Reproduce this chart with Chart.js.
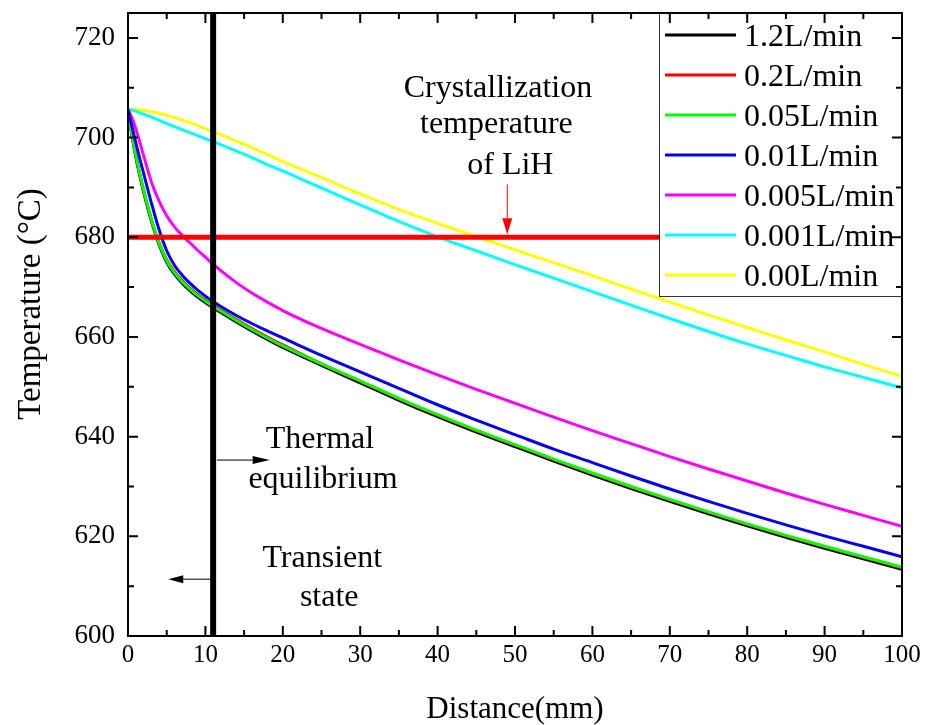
<!DOCTYPE html>
<html>
<head>
<meta charset="utf-8">
<script src="https://cdn.jsdelivr.net/npm/chart.js@4.4.1/dist/chart.umd.min.js"></script>
<style>
  html, body { margin: 0; padding: 0; background: #fff; }
</style>
</head>
<body>
<canvas id="chart" width="927" height="725"></canvas>
<script>
// distance along the tube (mm)
var distance = [0, 0.5, 1, 1.5, 2, 3, 4, 5, 6, 7, 8, 9, 10, 11, 12, 14, 16, 18, 20,
    25, 30, 35, 40, 45, 50, 55, 60, 65, 70, 75, 80, 85, 90, 95, 100];

// temperature (°C) for each flow rate
var flow1_2 = [705.6, 700.5, 696.2, 692.5, 689.2, 683.4, 678.6, 675.0, 672.6, 670.8, 669.3, 668.0, 666.9, 665.9, 664.9, 663.0, 661.2, 659.5, 657.9,
    654.3, 650.8, 647.3, 644.0, 640.9, 638.0, 635.1, 632.3, 629.6, 627.0, 624.5, 622.1, 619.8, 617.6, 615.5, 613.4];
var flow0_2 = [705.6, 700.7, 696.5, 692.8, 689.5, 683.7, 679.0, 675.5, 673.1, 671.3, 669.8, 668.5, 667.4, 666.4, 665.4, 663.5, 661.7, 660.0, 658.4,
    654.6, 651.1, 647.6, 644.3, 641.2, 638.3, 635.4, 632.6, 629.9, 627.3, 624.8, 622.4, 620.1, 617.9, 615.8, 613.7];
var flow0_05 = [705.6, 700.8, 696.6, 692.9, 689.6, 683.7, 678.9, 675.3, 672.9, 671.1, 669.6, 668.3, 667.2, 666.2, 665.2, 663.3, 661.5, 659.8, 658.2,
    654.6, 651.2, 647.7, 644.4, 641.3, 638.4, 635.5, 632.7, 630.0, 627.4, 624.9, 622.5, 620.2, 618.0, 615.9, 613.8];
var flow0_01 = [705.6, 702.3, 699.0, 695.9, 692.9, 687.0, 681.6, 677.3, 674.4, 672.4, 670.8, 669.4, 668.2, 667.1, 666.1, 664.3, 662.7, 661.2, 659.8,
    656.3, 653.0, 649.7, 646.4, 643.3, 640.4, 637.5, 634.8, 632.1, 629.5, 627.0, 624.6, 622.3, 620.1, 618.0, 615.9];
var flow0_005 = [705.6, 704.0, 701.8, 699.2, 696.5, 691.2, 687.3, 684.3, 682.1, 680.4, 678.9, 677.4, 676.0, 674.6, 673.3, 670.9, 668.8, 667.0, 665.3,
    661.7, 658.5, 655.4, 652.4, 649.5, 646.7, 643.9, 641.2, 638.6, 636.0, 633.5, 631.1, 628.7, 626.4, 624.2, 622.0];
var flow0_001 = [705.6, 705.5, 705.3, 705.0, 704.7, 704.1, 703.5, 702.8, 702.2, 701.6, 701.0, 700.4, 699.8, 699.2, 698.6, 697.3, 696.0, 694.6, 693.3,
    689.9, 686.5, 683.2, 680.1, 677.3, 674.5, 671.8, 669.1, 666.4, 663.7, 661.1, 658.6, 656.3, 654.0, 651.9, 649.8];
var flow0_00 = [705.6, 705.7, 705.7, 705.6, 705.5, 705.2, 704.9, 704.5, 704.0, 703.5, 703.0, 702.4, 701.8, 701.2, 700.6, 699.3, 698.0, 696.6, 695.2,
    692.0, 688.7, 685.6, 682.8, 680.1, 677.5, 674.9, 672.3, 669.6, 667.0, 664.4, 661.9, 659.4, 657.0, 654.5, 652.1];

var seriesLabels = ['1.2L/min', '0.2L/min', '0.05L/min', '0.01L/min', '0.005L/min', '0.001L/min', '0.00L/min'];
var seriesValues = [flow1_2, flow0_2, flow0_05, flow0_01, flow0_005, flow0_001, flow0_00];
var seriesColors = ['#000000', '#ff0000', '#00ff00', '#0000ff', '#ff00ff', '#00ffff', '#ffff00'];
var seriesOrder = [3, 2, 1, 0, 0, 0, 0]; // green drawn over red over black

var crystallizationTemp = 680;   // °C
var equilibriumDistance = 11;    // mm

var serif = '"Liberation Serif", "Times New Roman", serif';

function arrow(ctx, x1, y1, x2, y2, color, headLen, headW) {
    var ang = Math.atan2(y2 - y1, x2 - x1);
    ctx.strokeStyle = color;
    ctx.fillStyle = color;
    ctx.lineWidth = 1;
    ctx.beginPath();
    ctx.moveTo(x1, y1);
    ctx.lineTo(x2 - headLen * Math.cos(ang), y2 - headLen * Math.sin(ang));
    ctx.stroke();
    ctx.beginPath();
    ctx.moveTo(x2, y2);
    ctx.lineTo(x2 - headLen * Math.cos(ang) + headW * Math.sin(ang), y2 - headLen * Math.sin(ang) - headW * Math.cos(ang));
    ctx.lineTo(x2 - headLen * Math.cos(ang) - headW * Math.sin(ang), y2 - headLen * Math.sin(ang) + headW * Math.cos(ang));
    ctx.closePath();
    ctx.fill();
}

var decorations = {
    id: 'decorations',
    afterDatasetsDraw: function (chart) {
        var ctx = chart.ctx;
        var xs = chart.scales.x;
        var ys = chart.scales.y;
        var a = chart.chartArea;
        ctx.save();

        // crystallization temperature line
        var yc = ys.getPixelForValue(crystallizationTemp);
        ctx.strokeStyle = '#ff0000';
        ctx.lineWidth = 5;
        ctx.beginPath();
        ctx.moveTo(a.left, yc);
        ctx.lineTo(a.right, yc);
        ctx.stroke();

        // thermal equilibrium boundary
        var xe = xs.getPixelForValue(equilibriumDistance);
        ctx.strokeStyle = '#000';
        ctx.lineWidth = 6;
        ctx.beginPath();
        ctx.moveTo(xe, a.top);
        ctx.lineTo(xe, a.bottom);
        ctx.stroke();

        // legend box
        var lw = 243, lh = 283;
        var lx = a.right - lw, ly = a.top;
        ctx.fillStyle = '#fff';
        ctx.fillRect(lx, ly, lw, lh);
        ctx.strokeStyle = '#333';
        ctx.lineWidth = 1;
        ctx.strokeRect(lx + 0.5, ly + 0.5, lw, lh);
        ctx.font = '32px ' + serif;
        ctx.textAlign = 'left';
        ctx.textBaseline = 'alphabetic';
        chart.data.datasets.forEach(function (ds, i) {
            var ry = ly + 22 + i * 40;
            ctx.strokeStyle = ds.borderColor;
            ctx.lineWidth = 3;
            ctx.beginPath();
            ctx.moveTo(lx + 6, ry);
            ctx.lineTo(lx + 77, ry);
            ctx.stroke();
            ctx.fillStyle = '#000';
            ctx.fillText(ds.label, lx + 85, ry + 11);
        });

        // frame and inward ticks
        ctx.strokeStyle = '#000';
        ctx.lineWidth = 2;
        ctx.strokeRect(a.left, a.top, a.right - a.left, a.bottom - a.top);
        ctx.beginPath();
        for (var v = 0; v <= 100; v += 5) {
            var px = xs.getPixelForValue(v);
            var len = v % 10 === 0 ? 10 : 6;
            ctx.moveTo(px, a.bottom); ctx.lineTo(px, a.bottom - len);
            ctx.moveTo(px, a.top); ctx.lineTo(px, a.top + len);
        }
        for (var t = 600; t <= 725; t += 10) {
            var py = ys.getPixelForValue(t);
            var tl = t % 20 === 0 ? 10 : 6;
            ctx.moveTo(a.left, py); ctx.lineTo(a.left + tl, py);
            ctx.moveTo(a.right, py); ctx.lineTo(a.right - tl, py);
        }
        ctx.stroke();

        // annotations
        ctx.fillStyle = '#000';
        ctx.font = '32px ' + serif;
        ctx.textAlign = 'center';
        function label(text, x, y) {
            ctx.fillText(text, xs.getPixelForValue(x), ys.getPixelForValue(y));
        }
        label('Crystallization', 47.8, 708.2);
        label('temperature', 47.6, 701.0);
        label('of LiH', 49.4, 692.6);
        label('Thermal', 24.8, 637.8);
        label('equilibrium', 25.2, 629.7);
        label('Transient', 25.1, 613.9);
        label('state', 26.0, 606.0);

        arrow(ctx, xs.getPixelForValue(49), ys.getPixelForValue(690.6),
            xs.getPixelForValue(49), ys.getPixelForValue(680.6), '#ff0000', 16, 5);
        arrow(ctx, xs.getPixelForValue(11.5), ys.getPixelForValue(635.3),
            xs.getPixelForValue(18.3), ys.getPixelForValue(635.3), '#000', 17, 4);
        arrow(ctx, xs.getPixelForValue(10.6), ys.getPixelForValue(611.4),
            xs.getPixelForValue(5.2), ys.getPixelForValue(611.4), '#000', 15, 4);

        // y axis title, sits a little above the plot centre
        ctx.save();
        ctx.translate(31, 304);
        ctx.rotate(-Math.PI / 2);
        ctx.font = '33px ' + serif;
        ctx.textAlign = 'center';
        ctx.textBaseline = 'middle';
        ctx.fillText('Temperature (°C)', 0, 0);
        ctx.restore();

        ctx.restore();
    }
};

var datasets = seriesLabels.map(function (name, i) {
    return {
        label: name,
        data: distance.map(function (d, j) { return { x: d, y: seriesValues[i][j] }; }),
        borderColor: seriesColors[i],
        backgroundColor: seriesColors[i],
        borderWidth: 3,
        pointRadius: 0,
        fill: false,
        cubicInterpolationMode: 'monotone',
        order: seriesOrder[i]
    };
});

new Chart(document.getElementById('chart'), {
    type: 'line',
    data: { datasets: datasets },
    options: {
        responsive: false,
        animation: false,
        layout: { padding: { top: 13, right: 25, left: 0, bottom: 0 } },
        plugins: {
            legend: { display: false },
            tooltip: { enabled: false }
        },
        scales: {
            x: {
                type: 'linear',
                min: 0,
                max: 100,
                grid: { display: false, drawTicks: false },
                border: { display: false },
                ticks: {
                    stepSize: 10,
                    padding: 4,
                    color: '#000',
                    font: { family: serif, size: 25 }
                },
                title: {
                    display: true,
                    text: 'Distance(mm)',
                    color: '#000',
                    font: { family: serif, size: 31, lineHeight: 1 },
                    padding: { top: 0, bottom: 0 }
                },
                afterFit: function (scale) {
                    scale.height = 89;
                    scale.paddingLeft = 0;
                    scale.paddingRight = 0;
                }
            },
            y: {
                type: 'linear',
                min: 600,
                max: 725,
                grid: { display: false, drawTicks: false },
                border: { display: false },
                ticks: {
                    stepSize: 20,
                    includeBounds: false,
                    padding: 13,
                    color: '#000',
                    font: { family: serif, size: 27 }
                },
                afterFit: function (scale) {
                    scale.width = 128;
                    scale.paddingTop = 0;
                    scale.paddingBottom = 0;
                }
            }
        }
    },
    plugins: [decorations]
});
</script>
</body>
</html>
